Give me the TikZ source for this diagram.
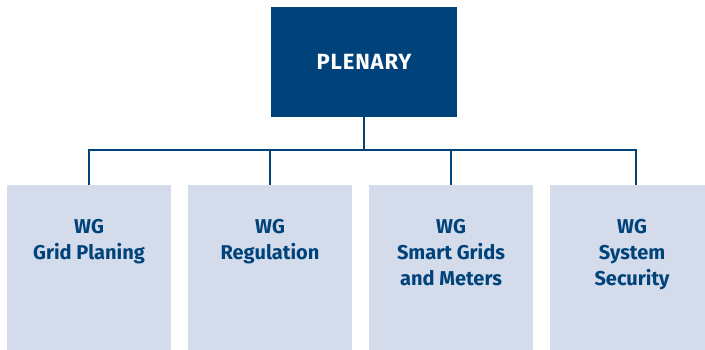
\documentclass[tikz,border=0pt]{standalone}
\usepackage{fontspec}
\setmainfont{Fira Sans}
\usepackage{tikz}
\usetikzlibrary{positioning}

\definecolor{darkblue}{HTML}{00437A}
\definecolor{paleblue}{HTML}{D4DBEA}

\tikzset{
  headbox/.style={fill=darkblue, text=white, minimum width=186pt, minimum height=110pt,
    inner sep=0pt, font=\bfseries\fontsize{22}{26}\selectfont\addfontfeature{LetterSpace=4}},
  wgbox/.style={fill=paleblue, minimum width=164pt, minimum height=170pt, inner sep=0pt},
  wglabel/.style={anchor=north, yshift=-34pt, align=center, text=darkblue, inner sep=0pt,
    font=\bfseries\fontsize{20}{26}\selectfont},
  conn/.style={draw=darkblue, line width=2pt}
}

\begin{document}
\begin{tikzpicture}[x=1pt, y=-1pt]
  \useasboundingbox (0,0) rectangle (705,349);
  \clip (0,0) rectangle (705,349);

  \node[headbox] (plenary) at (364,62) {PLENARY};

  \node[wgbox, label={[wglabel]north:{WG\\Grid Planing}}] (wgA) at (89,270) {};
  \node[wgbox, label={[wglabel]north:{WG\\Regulation}}] (wgB) at (270,270) {};
  \node[wgbox, label={[wglabel]north:{WG\\Smart Grids\\and Meters}}] (wgC) at (451,270) {};
  \node[wgbox, label={[wglabel]north:{WG\\System\\Security}}] (wgD) at (632,270) {};

  \coordinate (bus) at (0,149.5);
  \coordinate (busD) at ([xshift=4pt]wgD.north);

  \draw[conn] (plenary.south) -- (plenary.south |- bus);
  \draw[conn] (wgA.north) -- (wgA.north |- bus) -- (busD |- bus) -- (busD);
  \draw[conn] (wgB.north) -- (wgB.north |- bus);
  \draw[conn] (wgC.north) -- (wgC.north |- bus);
\end{tikzpicture}
\end{document}
